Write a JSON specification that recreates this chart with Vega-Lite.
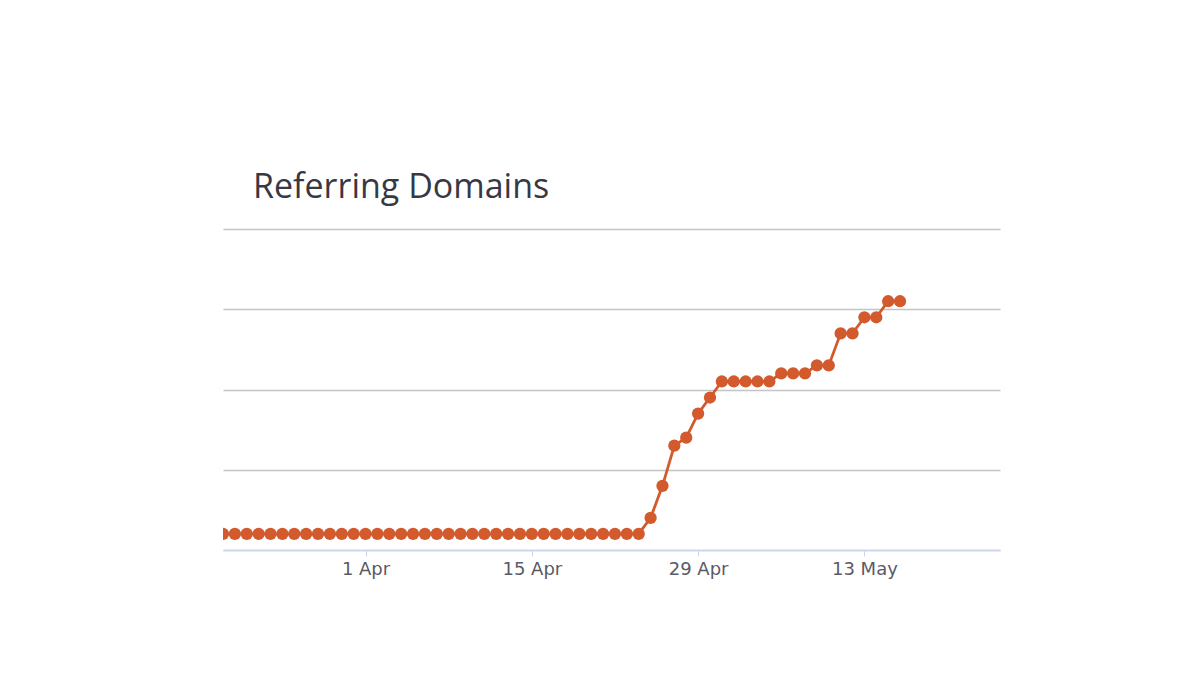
{
  "$schema": "https://vega.github.io/schema/vega-lite/v6.json",
  "width": 777,
  "height": 321,
  "autosize": {"type": "none"},
  "padding": {"left": 223, "top": 229, "right": 200, "bottom": 125},
  "background": "white",
  "title": {
    "text": "Referring Domains",
    "anchor": "start",
    "dx": 30,
    "offset": -3,
    "baseline": "alphabetic",
    "font": "Open Sans",
    "fontSize": 34,
    "fontWeight": "normal",
    "color": "#383845"
  },
  "config": {"view": {"stroke": null}},
  "data": {
    "values": [
      {"date": "2019-03-20", "value": 4},
      {"date": "2019-03-21", "value": 4},
      {"date": "2019-03-22", "value": 4},
      {"date": "2019-03-23", "value": 4},
      {"date": "2019-03-24", "value": 4},
      {"date": "2019-03-25", "value": 4},
      {"date": "2019-03-26", "value": 4},
      {"date": "2019-03-27", "value": 4},
      {"date": "2019-03-28", "value": 4},
      {"date": "2019-03-29", "value": 4},
      {"date": "2019-03-30", "value": 4},
      {"date": "2019-03-31", "value": 4},
      {"date": "2019-04-01", "value": 4},
      {"date": "2019-04-02", "value": 4},
      {"date": "2019-04-03", "value": 4},
      {"date": "2019-04-04", "value": 4},
      {"date": "2019-04-05", "value": 4},
      {"date": "2019-04-06", "value": 4},
      {"date": "2019-04-07", "value": 4},
      {"date": "2019-04-08", "value": 4},
      {"date": "2019-04-09", "value": 4},
      {"date": "2019-04-10", "value": 4},
      {"date": "2019-04-11", "value": 4},
      {"date": "2019-04-12", "value": 4},
      {"date": "2019-04-13", "value": 4},
      {"date": "2019-04-14", "value": 4},
      {"date": "2019-04-15", "value": 4},
      {"date": "2019-04-16", "value": 4},
      {"date": "2019-04-17", "value": 4},
      {"date": "2019-04-18", "value": 4},
      {"date": "2019-04-19", "value": 4},
      {"date": "2019-04-20", "value": 4},
      {"date": "2019-04-21", "value": 4},
      {"date": "2019-04-22", "value": 4},
      {"date": "2019-04-23", "value": 4},
      {"date": "2019-04-24", "value": 4},
      {"date": "2019-04-25", "value": 8},
      {"date": "2019-04-26", "value": 16},
      {"date": "2019-04-27", "value": 26},
      {"date": "2019-04-28", "value": 28},
      {"date": "2019-04-29", "value": 34},
      {"date": "2019-04-30", "value": 38},
      {"date": "2019-05-01", "value": 42},
      {"date": "2019-05-02", "value": 42},
      {"date": "2019-05-03", "value": 42},
      {"date": "2019-05-04", "value": 42},
      {"date": "2019-05-05", "value": 42},
      {"date": "2019-05-06", "value": 44},
      {"date": "2019-05-07", "value": 44},
      {"date": "2019-05-08", "value": 44},
      {"date": "2019-05-09", "value": 46},
      {"date": "2019-05-10", "value": 46},
      {"date": "2019-05-11", "value": 54},
      {"date": "2019-05-12", "value": 54},
      {"date": "2019-05-13", "value": 58},
      {"date": "2019-05-14", "value": 58},
      {"date": "2019-05-15", "value": 62},
      {"date": "2019-05-16", "value": 62}
    ]
  },
  "mark": {
    "type": "line",
    "color": "#d35a2c",
    "strokeWidth": 2.8,
    "clip": true,
    "point": {"filled": true, "size": 150, "color": "#d35a2c", "opacity": 1}
  },
  "encoding": {
    "x": {
      "field": "date",
      "type": "temporal",
      "scale": {
        "type": "utc",
        "domain": [
          {"year": 2019, "month": 3, "date": 20, "utc": true},
          {"year": 2019, "month": 5, "date": 24, "hours": 10, "utc": true}
        ]
      },
      "axis": {
        "title": null,
        "values": [
          {"year": 2019, "month": 4, "date": 1, "utc": true},
          {"year": 2019, "month": 4, "date": 15, "utc": true},
          {"year": 2019, "month": 4, "date": 29, "utc": true},
          {"year": 2019, "month": 5, "date": 13, "utc": true}
        ],
        "format": "%-d %b",
        "grid": false,
        "domainColor": "#ccd6eb",
        "domainWidth": 1.5,
        "tickColor": "#ccd6eb",
        "tickSize": 6,
        "labelPadding": 4,
        "labelFont": "DejaVu Sans",
        "labelFontSize": 18,
        "labelColor": "#5a5a66",
        "labelFlush": false,
        "labelOverlap": false
      }
    },
    "y": {
      "field": "value",
      "type": "quantitative",
      "scale": {"domain": [0, 80], "nice": false},
      "axis": {
        "title": null,
        "labels": false,
        "ticks": false,
        "domain": false,
        "values": [0, 20, 40, 60, 80],
        "grid": true,
        "gridColor": "#c4c4c4",
        "gridWidth": 1.3
      }
    }
  }
}
